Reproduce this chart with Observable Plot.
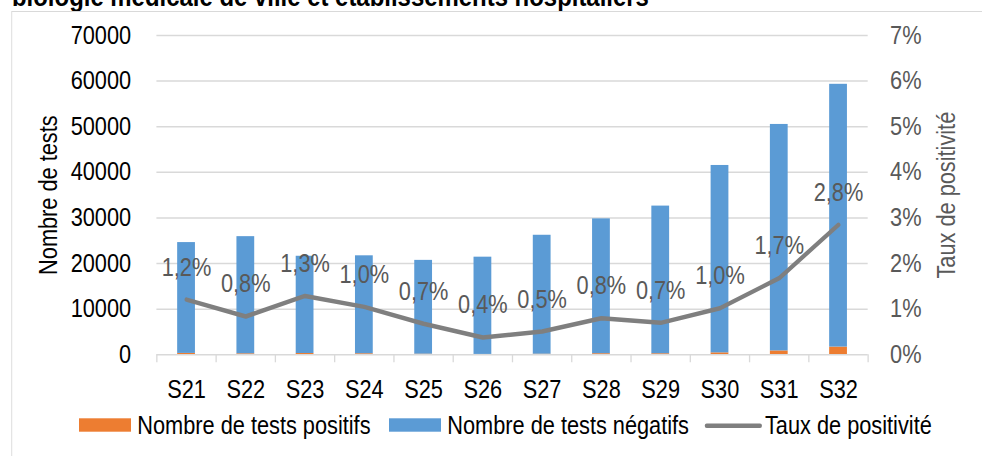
<!DOCTYPE html>
<html><head><meta charset="utf-8">
<script src="https://cdn.jsdelivr.net/npm/d3@7"></script>
<script src="https://cdn.jsdelivr.net/npm/@observablehq/plot@0.6"></script>
<style>
html,body{margin:0;padding:0;overflow:hidden;background:#fff;width:982px;height:456px}
#wrap{position:absolute;left:0;top:0;transform-origin:0 0;font-family:"Liberation Sans",Arial,sans-serif}
#title{position:absolute;white-space:nowrap;font-weight:bold;color:#000}
#box{position:absolute;border:1.5px solid #d9d9d9;box-sizing:border-box}
#wrap svg{position:absolute;left:0;top:0;max-width:none}
</style></head><body><div id="wrap"></div>
<script>
// ---- data ----
const weeks = ["S21","S22","S23","S24","S25","S26","S27","S28","S29","S30","S31","S32"];
const positives = [300, 220, 280, 230, 140, 80, 134, 240, 230, 425, 850, 1690];
const negatives = [24300, 25680, 21320, 21470, 20560, 21320, 26070, 29560, 32370, 41080, 49650, 57610];
const rates = [1.21, 0.84, 1.29, 1.05, 0.68, 0.38, 0.51, 0.80, 0.70, 1.02, 1.68, 2.85]; // in %
const rateLabels = ["1,2%","0,8%","1,3%","1,0%","0,7%","0,4%","0,5%","0,8%","0,7%","1,0%","1,7%","2,8%"];
const yTicks = [0, 10000, 20000, 30000, 40000, 50000, 60000, 70000];
const seriesNames = ["Nombre de tests positifs", "Nombre de tests négatifs", "Taux de positivité"];
const axisTitles = ["Nombre de tests", "Taux de positivité"];
const titleText = "biologie médicale de ville et établissements hospitaliers";

// ---- styling / layout ----
const ORANGE = "#ED7D31", BLUE = "#5B9BD5", LINE = "#7F7F7F", GRID = "#D9D9D9", GREY = "#595959";
const S = 0.87;               // horizontal squeeze (narrow type)
const W = 982 / S, H = 456;
const fx = v => v / S;
const FONT = "Liberation Sans, Arial, sans-serif";
const FS = 25;

const wrap = document.getElementById("wrap");
wrap.style.width = W + "px";
wrap.style.height = H + "px";
wrap.style.transform = `scaleX(${S})`;

const title = document.createElement("div");
title.id = "title";
title.textContent = titleText;
title.style.left = fx(12) + "px";
title.style.top = "-17px";
title.style.fontSize = "27.5px";
title.style.lineHeight = "27.5px";
wrap.appendChild(title);

const box = document.createElement("div");
box.id = "box";
box.style.left = fx(11) + "px";
box.style.top = "11px";
box.style.width = (W + 20) + "px";
box.style.height = "500px";
wrap.appendChild(box);

const bars = [];
weeks.forEach((w, i) => {
  bars.push({week: w, series: "pos", value: positives[i]});
  bars.push({week: w, series: "neg", value: negatives[i]});
});
const lineData = weeks.map((w, i) => ({week: w, rate: rates[i], label: rateLabels[i]}));

const mL = fx(156.4), mR = W - fx(867.7), mT = 35, mB = H - 354.3;
const step = (W - mL - mR) / weeks.length;

const chart = Plot.plot({
  width: W, height: H,
  marginLeft: mL, marginRight: mR, marginTop: mT, marginBottom: mB,
  x: {domain: weeks, paddingInner: 0.7, paddingOuter: 0.35, align: 0.5, round: false},
  y: {domain: [0, 70000]},
  color: {domain: ["pos", "neg"], range: [ORANGE, BLUE]},
  style: {fontFamily: FONT, fontSize: FS + "px", background: "transparent", overflow: "visible"},
  marks: [
    Plot.ruleY(yTicks.slice(1), {stroke: GRID, strokeWidth: 1.5}),
    Plot.barY(bars, {x: "week", y: "value", fill: "series"}),
    Plot.ruleY([0], {stroke: GRID, strokeWidth: 1.5}),
    Plot.ruleX(weeks, {x: d => d, y1: 0, y2: 0, insetBottom: -8, dx: -step / 2, stroke: GRID, strokeWidth: 1.5}),
    Plot.ruleX([weeks[weeks.length - 1]], {x: d => d, y1: 0, y2: 0, insetBottom: -8, dx: step / 2, stroke: GRID, strokeWidth: 1.5}),
    Plot.line(lineData, {x: "week", y: d => d.rate * 10000, stroke: LINE, strokeWidth: 4.5, strokeLinejoin: "round", strokeLinecap: "round"}),
    Plot.text(lineData, {x: "week", y: d => d.rate * 10000, text: "label", dy: -32, fill: GREY, fontSize: FS}),
    Plot.axisY(yTicks, {anchor: "left", tickSize: 0, tickPadding: fx(25.7), tickFormat: d => String(d), color: "#000", label: null, fontSize: FS}),
    Plot.axisY(yTicks, {anchor: "right", tickSize: 0, tickPadding: fx(22), tickFormat: d => (d / 10000) + "%", color: GREY, label: null, fontSize: FS}),
    Plot.axisX({tickSize: 0, tickPadding: 25, label: null, color: "#000", fontSize: FS}),
    Plot.text([axisTitles[0]], {frameAnchor: "left", textAnchor: "middle", dx: fx(49) - mL, rotate: -90, fill: "#000", fontSize: FS}),
    Plot.text([axisTitles[1]], {frameAnchor: "right", textAnchor: "middle", dx: fx(946.7) - fx(867.7), rotate: -90, fill: GREY, fontSize: FS})
  ]
});
// rotated titles: make the narrow squeeze act along their reading direction
d3.select(chart).selectAll("text").each(function () {
  if (axisTitles.includes(this.textContent)) {
    const t = this.getAttribute("transform") || "";
    this.setAttribute("transform", `${t} scale(${S},${1 / S})`);
  }
});
wrap.appendChild(chart);

// ---- legend ----
const leg = d3.create("svg").attr("width", W).attr("height", H)
  .style("font-family", FONT).style("font-size", FS + "px");
const items = [
  {type: "rect", color: ORANGE, x0: 79, x1: 131, tx: 137.3, name: seriesNames[0]},
  {type: "rect", color: BLUE, x0: 389, x1: 441, tx: 447.3, name: seriesNames[1]},
  {type: "line", color: LINE, x0: 706.7, x1: 760, tx: 765, name: seriesNames[2]}
];
for (const it of items) {
  if (it.type === "rect") {
    leg.append("rect").attr("x", fx(it.x0)).attr("y", 418.3).attr("width", fx(it.x1) - fx(it.x0)).attr("height", 13.4).attr("fill", it.color);
  } else {
    leg.append("line").attr("x1", fx(it.x0)).attr("x2", fx(it.x1)).attr("y1", 425.7).attr("y2", 425.7)
      .attr("stroke", it.color).attr("stroke-width", 4.5).attr("stroke-linecap", "round");
  }
  leg.append("text").attr("x", fx(it.tx)).attr("y", 434.3).attr("fill", "#000").text(it.name);
}
wrap.appendChild(leg.node());
</script>
</body></html>
